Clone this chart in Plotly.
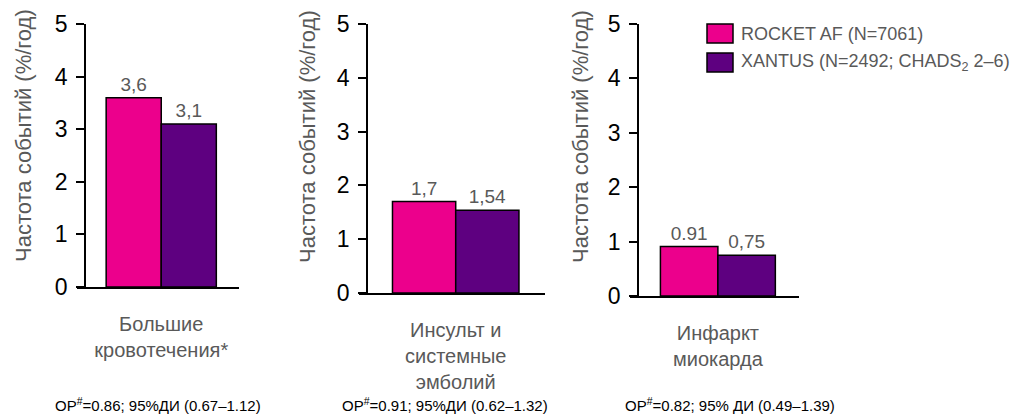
import plotly.graph_objects as go

# ---- data ----
series_names = ["ROCKET AF (N=7061)", "XANTUS (N=2492; CHADS<sub>2</sub> 2–6)"]
categories = ["Большие<br>кровотечения*", "Инсульт и<br>системные<br>эмболий", "Инфаркт<br>миокарда"]
rocket_values = [3.6, 1.7, 0.91]
xantus_values = [3.1, 1.54, 0.75]
rocket_labels = ["3,6", "1,7", "0.91"]
xantus_labels = ["3,1", "1,54", "0,75"]
hr_notes = [
    "ОР<sup>#</sup>=0.86; 95%ДИ (0.67–1.12)",
    "ОР<sup>#</sup>=0.91; 95%ДИ (0.62–1.32)",
    "ОР<sup>#</sup>=0.82; 95% ДИ (0.49–1.39)",
]
y_title = "Частота событий (%/год)"
y_ticks = [0, 1, 2, 3, 4, 5]

# ---- styling ----
W, H = 1026, 416
COL_ROCKET = "#EC008C"
COL_XANTUS = "#5E0080"
GRAY = "#595959"
FONT = "Arial, 'Liberation Sans', sans-serif"

# pixel geometry per panel: (yaxis x, xline left, xline right, y of 0, y of 5)
panels = [
    (85, 77, 239, 287, 24),
    (367, 359, 545, 293, 24),
    (638, 630, 799, 296, 24),
]
ytitle_pos = [(24, 136), (307, 137), (580, 137)]
note_x = [158, 445, 730]

fig = go.Figure()
layout_axes = {}
for i, (yx, xl, xr, y0, y5) in enumerate(panels):
    n = "" if i == 0 else str(i + 1)
    xa, ya = "x" + n, "y" + n
    fig.add_trace(go.Bar(
        x=[categories[i]], y=[rocket_values[i]], name=series_names[0],
        xaxis=xa, yaxis=ya, text=[rocket_labels[i]], textposition="outside",
        textfont=dict(size=19, color=GRAY, family=FONT), cliponaxis=False,
        marker=dict(color=COL_ROCKET, line=dict(color="black", width=1.5)),
        showlegend=False, offsetgroup="a"))
    fig.add_trace(go.Bar(
        x=[categories[i]], y=[xantus_values[i]], name=series_names[1],
        xaxis=xa, yaxis=ya, text=[xantus_labels[i]], textposition="outside",
        textfont=dict(size=19, color=GRAY, family=FONT), cliponaxis=False,
        marker=dict(color=COL_XANTUS, line=dict(color="black", width=1.5)),
        showlegend=False, offsetgroup="b"))
    layout_axes["xaxis" + n] = dict(
        domain=[xl / W, xr / W], anchor=ya, type="category", automargin=False,
        range=[-0.52, 0.48], showline=True, linecolor="black", linewidth=1.5,
        ticks="", showgrid=False, zeroline=False,
        tickfont=dict(size=20, color=GRAY, family=FONT), ticklabelstandoff=18)
    layout_axes["yaxis" + n] = dict(
        domain=[(H - y0) / H, (H - y5) / H], anchor="free", position=yx / W,
        automargin=False,
        range=[0, 5], tickvals=y_ticks, showline=True, linecolor="black",
        linewidth=1.5, ticks="outside", ticklen=8, tickwidth=1.5,
        tickcolor="black", showgrid=False, zeroline=False, ticklabelstandoff=4,
        tickfont=dict(size=23, color="black", family=FONT))

annotations = []
for i in range(3):
    tx, ty = ytitle_pos[i]
    annotations.append(dict(
        text=y_title, textangle=-90, x=tx / W, y=(H - ty) / H,
        xref="paper", yref="paper", xanchor="center", yanchor="middle",
        showarrow=False, font=dict(size=22, color=GRAY, family=FONT)))
    annotations.append(dict(
        text=hr_notes[i], x=note_x[i] / W, y=(H - 404) / H,
        xref="paper", yref="paper", xanchor="center", yanchor="middle",
        showarrow=False, font=dict(size=15, color="black", family=FONT)))

# legend drawn as swatches + text
shapes = []
legend_rows = [(24, 43), (53, 72)]
for (top, bot), col, name in zip(legend_rows, [COL_ROCKET, COL_XANTUS], series_names):
    shapes.append(dict(type="rect", xref="paper", yref="paper",
                       x0=707 / W, x1=733 / W, y0=(H - bot) / H, y1=(H - top) / H,
                       fillcolor=col, line=dict(color="black", width=1.5)))
    annotations.append(dict(
        text=name, x=739 / W, y=(H - (top + bot) / 2) / H,
        xref="paper", yref="paper", xanchor="left", yanchor="middle",
        showarrow=False, font=dict(size=18, color=GRAY, family=FONT)))

fig.update_layout(
    width=W, height=H, margin=dict(l=0, r=0, t=0, b=0, autoexpand=False),
    paper_bgcolor="white", plot_bgcolor="white",
    barmode="group", bargap=0.32, bargroupgap=0,
    font=dict(family=FONT),
    annotations=annotations, shapes=shapes, **layout_axes)

fig.write_html("out.html", config={"displayModeBar": False},
               post_script="document.body.style.margin='0';document.body.style.overflow='hidden';")
